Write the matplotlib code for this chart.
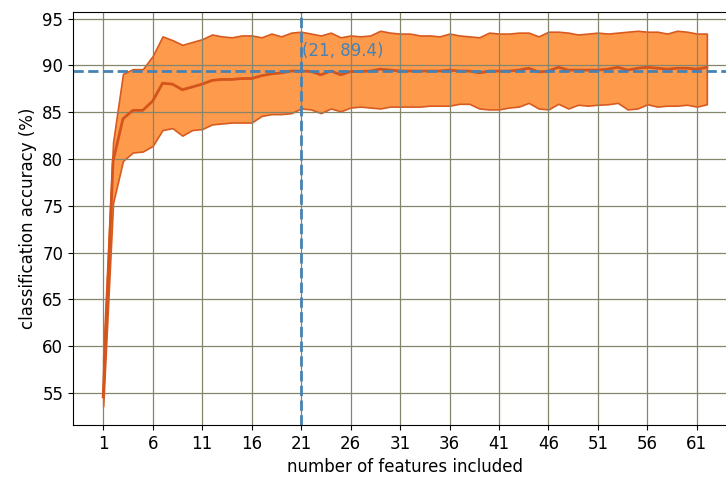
import matplotlib
matplotlib.use("Agg")
import matplotlib.pyplot as plt
import numpy as np

# accuracy per number of included features (mean and spread over folds)
n_features = np.arange(1, 63)

acc_upper = [58.9, 81.8, 89.1, 89.6, 89.6, 91.0, 93.1, 92.7, 92.2, 92.5,
             92.8, 93.3, 93.1, 93.0, 93.2, 93.2, 93.0, 93.4, 93.1, 93.5,
             93.6, 93.4, 93.2, 93.5, 93.0, 93.2, 93.1, 93.2, 93.7, 93.5,
             93.4, 93.4, 93.2, 93.2, 93.1, 93.4, 93.2, 93.1, 93.0, 93.5,
             93.4, 93.4, 93.5, 93.5, 93.1, 93.6, 93.6, 93.5, 93.3, 93.4,
             93.5, 93.4, 93.5, 93.6, 93.7, 93.6, 93.6, 93.4, 93.7, 93.6,
             93.4, 93.4]

acc_mean = [54.6, 79.8, 84.3, 85.2, 85.2, 86.2, 88.1, 88.0, 87.4, 87.7,
            88.0, 88.4, 88.5, 88.5, 88.6, 88.6, 88.9, 89.1, 89.2, 89.4,
            89.4, 89.35, 89.0, 89.4, 89.0, 89.35, 89.35, 89.4, 89.6, 89.5,
            89.4, 89.4, 89.4, 89.4, 89.4, 89.5, 89.4, 89.4, 89.2, 89.4,
            89.4, 89.4, 89.5, 89.7, 89.3, 89.4, 89.8, 89.5, 89.5, 89.5,
            89.5, 89.6, 89.8, 89.5, 89.7, 89.8, 89.7, 89.6, 89.7, 89.7,
            89.6, 89.8]

acc_lower = [53.6, 75.3, 79.8, 80.7, 80.8, 81.4, 83.1, 83.3, 82.5, 83.1,
             83.2, 83.7, 83.8, 83.9, 83.9, 83.9, 84.6, 84.8, 84.8, 84.9,
             85.4, 85.3, 84.9, 85.4, 85.1, 85.5, 85.6, 85.5, 85.4, 85.6,
             85.6, 85.6, 85.6, 85.7, 85.7, 85.7, 85.9, 85.9, 85.4, 85.3,
             85.3, 85.5, 85.6, 86.0, 85.4, 85.3, 85.9, 85.4, 85.8, 85.7,
             85.8, 85.85, 86.0, 85.3, 85.4, 85.85, 85.6, 85.7, 85.7, 85.8,
             85.6, 85.85]

best_n = 21
best_acc = 89.4

fig = plt.figure(figsize=(7.26, 4.79), dpi=100)
ax = fig.add_axes([73 / 726, 54 / 479, 664 / 726, 413 / 479])

ax.fill_between(n_features, acc_lower, acc_upper,
                facecolor='#fe9a4c', edgecolor='#d95a1e', linewidth=1.2)
ax.plot(n_features, acc_mean, color='#d4541c', linewidth=2)

ax.axvline(best_n, color='#4682b4', linestyle='--', linewidth=2)
ax.axhline(best_acc, color='#4682b4', linestyle='--', linewidth=2)
ax.text(best_n + 0.1, 90.6, '(%d, %.1f)' % (best_n, best_acc),
        color='#4682b4', fontsize=12, va='bottom')

ax.set_xticks(np.arange(1, 63, 5))
ax.set_yticks(np.arange(55, 96, 5))
ax.tick_params(labelsize=12)
ax.grid(True, color='#85856c', linewidth=0.9)

ax.set_xlabel('number of features included', fontsize=12)
ax.set_ylabel('classification accuracy (%)', fontsize=12)

fig.savefig('out.png', dpi=100)
